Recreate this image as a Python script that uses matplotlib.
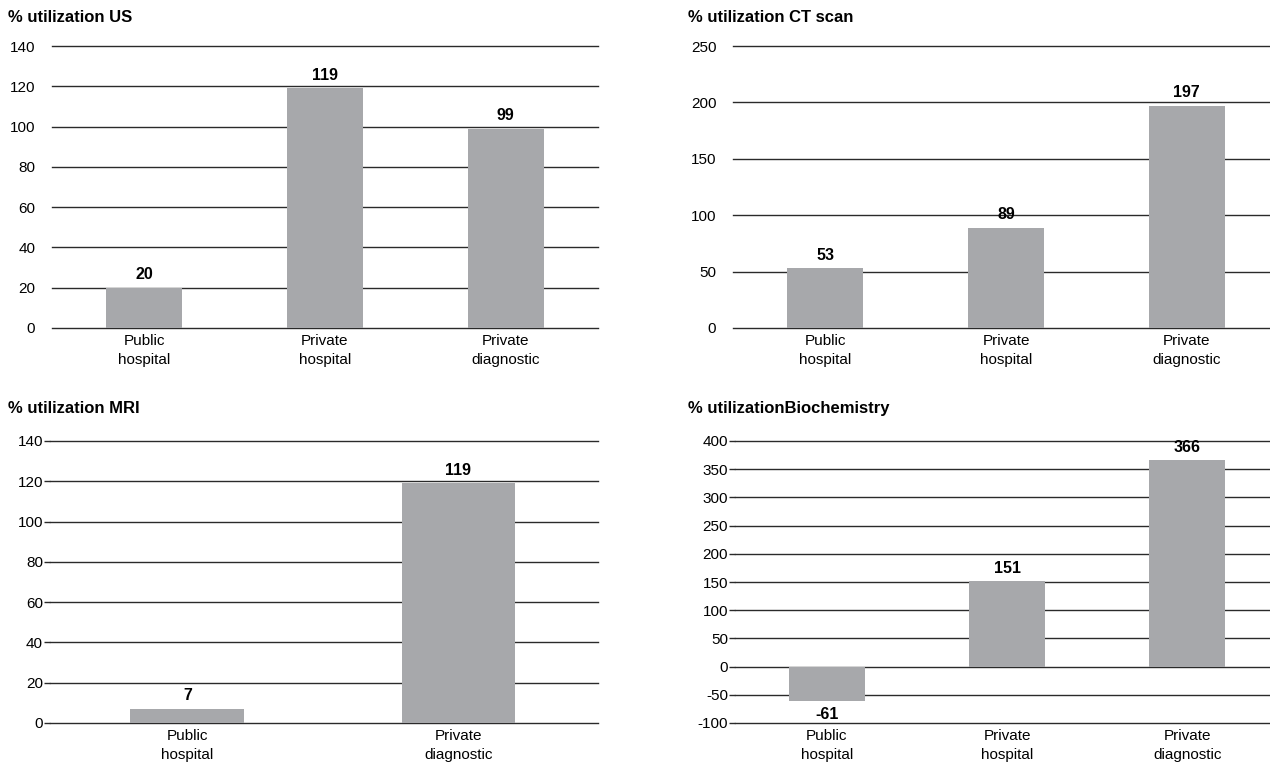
import matplotlib
matplotlib.use("Agg")
import matplotlib.pyplot as plt

plt.rcParams['font.family'] = ['Liberation Sans Narrow', 'Liberation Sans', 'DejaVu Sans']
plt.rcParams['axes.unicode_minus'] = False

# utilization figures per facility type
us_labels = ["Public\nhospital", "Private\nhospital", "Private\ndiagnostic"]
us_values = [20, 119, 99]

ct_labels = ["Public\nhospital", "Private\nhospital", "Private\ndiagnostic"]
ct_values = [53, 89, 197]

mri_labels = ["Public\nhospital", "Private\ndiagnostic"]
mri_values = [7, 119]

bio_labels = ["Public\nhospital", "Private\nhospital", "Private\ndiagnostic"]
bio_values = [-61, 151, 366]

W, H = 1270, 766
BAR = "#a7a8ab"
GRID = "#2a2a2a"

fig = plt.figure(figsize=(W / 100, H / 100), dpi=100)


def panel(box, title, tpos, labels, values, yticks, xlim, ticks_on):
    l, r, t, b = box
    ax = fig.add_axes([l / W, 1 - b / H, (r - l) / W, (b - t) / H])
    x = list(range(len(values)))
    for y in yticks:
        ax.axhline(y, color=GRID, lw=1.0, zorder=0, clip_on=False)
    bars = ax.bar(x, values, width=0.42, color=BAR, zorder=2)
    for rect, v in zip(bars, values):
        cx = rect.get_x() + rect.get_width() / 2
        if v >= 0:
            ax.annotate(str(v), (cx, v), xytext=(0, 4), textcoords="offset points",
                        ha="center", va="bottom", fontsize=11.5, fontweight="bold")
        else:
            ax.annotate(str(v), (cx, v), xytext=(0, -4), textcoords="offset points",
                        ha="center", va="top", fontsize=11.5, fontweight="bold")
    ax.set_xlim(*xlim)
    ax.set_ylim(yticks[0], yticks[-1])
    ax.set_yticks(yticks)
    ax.set_xticks(x)
    ax.set_xticklabels(labels, fontsize=11, linespacing=1.5)
    for s in ax.spines.values():
        s.set_visible(False)
    ax.tick_params(axis="x", length=0, pad=4)
    if ticks_on:
        ax.tick_params(axis="y", length=4, width=1.0, color=GRID, pad=1, labelsize=11)
    else:
        ax.tick_params(axis="y", length=0, pad=12, labelsize=11)
    fig.text(tpos[0] / W, 1 - tpos[1] / H, title, fontsize=12, fontweight="bold",
             ha="left", va="center")
    return ax


panel((52, 598, 46, 328), "% utilization US", (8, 18),
      us_labels, us_values, list(range(0, 141, 20)), (-0.51, 2.51), False)
panel((733, 1270, 46, 328), "% utilization CT scan", (688, 18),
      ct_labels, ct_values, list(range(0, 251, 50)), (-0.51, 2.46), False)
panel((50, 598, 441, 723), "% utilization MRI", (8, 409),
      mri_labels, mri_values, list(range(0, 141, 20)), (-0.507, 1.515), True)
panel((735, 1270, 441, 723), "% utilizationBiochemistry", (688, 409),
      bio_labels, bio_values, list(range(-100, 401, 50)), (-0.51, 2.46), True)

fig.savefig("out.png", dpi=100)
